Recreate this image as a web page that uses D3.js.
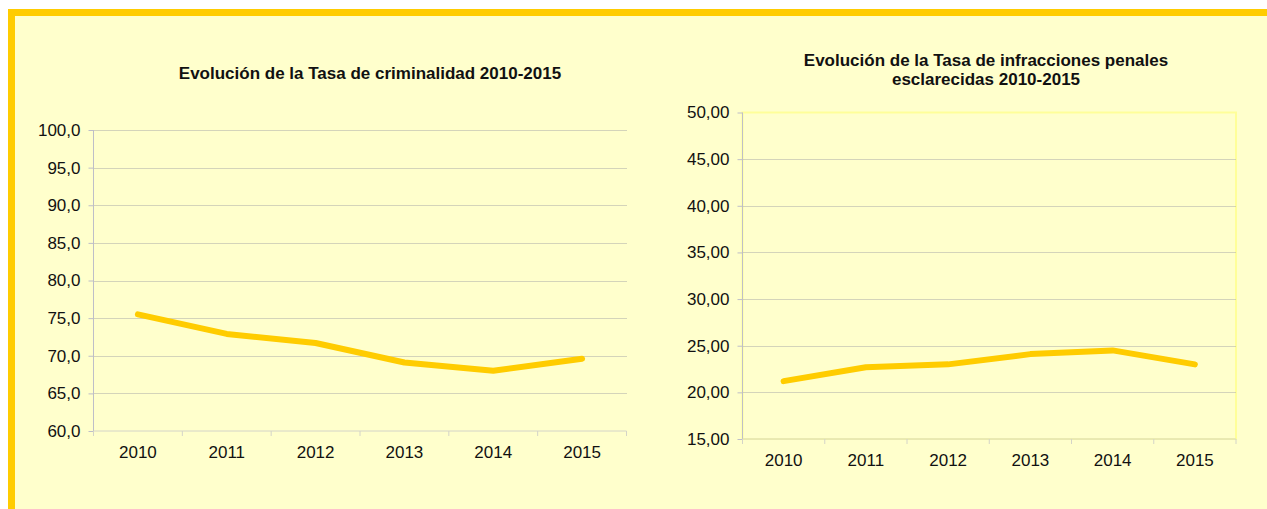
<!DOCTYPE html>
<html>
<head>
<meta charset="utf-8">
<script src="https://cdn.jsdelivr.net/npm/d3@7"></script>
<style>
  body { margin: 0; background: #ffffff; }
  svg text { font-family: Arial, "Liberation Sans", sans-serif; fill: #111; }
</style>
</head>
<body>
<svg id="chart" width="1267" height="509"></svg>
<script>
// data
var years = ["2010", "2011", "2012", "2013", "2014", "2015"];
var tasaCriminalidad = [75.5, 72.9, 71.7, 69.1, 68.0, 69.6];
var tasaEsclarecidas = [21.2, 22.7, 23.0, 24.1, 24.5, 23.0];
var ticksCriminalidad = [60, 65, 70, 75, 80, 85, 90, 95, 100];
var ticksEsclarecidas = [15, 20, 25, 30, 35, 40, 45, 50];
var tituloCriminalidad = ["Evolución de la Tasa de criminalidad 2010-2015"];
var tituloEsclarecidas = ["Evolución de la Tasa de infracciones penales", "esclarecidas 2010-2015"];

var es = d3.formatLocale({ decimal: ",", thousands: ".", grouping: [3], currency: ["", " €"] });

var svg = d3.select("#chart");

// panel background and yellow frame
svg.append("rect").attr("x", 15).attr("y", 16).attr("width", 1252).attr("height", 493).attr("fill", "#FFFFCC");
svg.append("rect").attr("x", 8).attr("y", 9).attr("width", 1259).attr("height", 7).attr("fill", "#FFCC00");
svg.append("rect").attr("x", 8).attr("y", 9).attr("width", 7).attr("height", 500).attr("fill", "#FFCC00");

function drawChart(opts) {
  var g = svg.append("g");
  var x = d3.scaleBand().domain(years).range([opts.left, opts.right]);
  var y = d3.scaleLinear().domain(opts.domain).range([opts.bottom, opts.top]);

  // plot area border (only the right chart has one)
  if (opts.border) {
    g.append("rect")
      .attr("x", opts.left).attr("y", opts.top)
      .attr("width", opts.right - opts.left).attr("height", opts.bottom - opts.top)
      .attr("fill", "none").attr("stroke", "#FFFF99").attr("stroke-width", 2);
  }

  // dotted gridlines, skip the bottom one and the top one when bordered
  var gridTicks = opts.ticks.slice(1).filter(function (d) {
    return !(opts.border && d === opts.domain[1]);
  });
  g.selectAll(".grid").data(gridTicks).enter().append("line")
    .attr("x1", opts.left).attr("x2", opts.right)
    .attr("y1", function (d) { return Math.round(y(d)) + 0.5; })
    .attr("y2", function (d) { return Math.round(y(d)) + 0.5; })
    .attr("stroke", "#A8A8A8")
    .attr("stroke-dasharray", "1,1");

  var yAxis = d3.axisLeft(y).tickValues(opts.ticks).tickSize(5).tickPadding(8)
    .tickFormat(es.format(opts.fmt));
  var ya = g.append("g").attr("transform", "translate(" + opts.left + ",0)").call(yAxis);
  ya.select(".domain").attr("stroke", "#BEBEC8").attr("d", "M0," + opts.top + "V" + opts.bottom);
  ya.selectAll(".tick line").attr("stroke", "#BEBEC8");
  ya.selectAll("text").style("font-size", "17px").attr("fill", "#111");

  var xAxis = d3.axisBottom(x).tickSize(0).tickPadding(0);
  var xa = g.append("g").attr("transform", "translate(0," + opts.bottom + ")").call(xAxis);
  xa.select(".domain").attr("stroke", "#D4D4C8").attr("d", "M" + opts.left + ",0H" + opts.right);
  xa.selectAll("text").style("font-size", "17px").attr("fill", "#111").attr("dy", "27px");
  // category boundary ticks
  var bounds = years.map(function (d) { return x(d); }).concat([opts.right]);
  xa.selectAll(".bound").data(bounds).enter().append("line")
    .attr("x1", function (d) { return d; }).attr("x2", function (d) { return d; })
    .attr("y1", 0).attr("y2", 5).attr("stroke", "#D4D4C8");

  var line = d3.line()
    .x(function (d, i) { return x(years[i]) + x.bandwidth() / 2; })
    .y(function (d) { return y(d); });
  g.append("path").datum(opts.values)
    .attr("d", line).attr("fill", "none")
    .attr("stroke", "#FFCC00").attr("stroke-width", 6)
    .attr("stroke-linejoin", "round").attr("stroke-linecap", "round");

  var t = g.append("text").attr("text-anchor", "middle")
    .style("font-size", "17px").style("font-weight", "bold");
  opts.title.forEach(function (s, i) {
    t.append("tspan").attr("x", opts.titleX).attr("y", opts.titleY + i * 19).text(s);
  });
}

drawChart({
  left: 93.5, right: 626.5, top: 130, bottom: 431,
  domain: [60, 100], ticks: ticksCriminalidad, values: tasaCriminalidad,
  fmt: ".1f", border: false, title: tituloCriminalidad, titleX: 370, titleY: 79
});

drawChart({
  left: 742.5, right: 1236, top: 112.5, bottom: 439,
  domain: [15, 50], ticks: ticksEsclarecidas, values: tasaEsclarecidas,
  fmt: ".2f", border: true, title: tituloEsclarecidas, titleX: 986, titleY: 66
});
</script>
</body>
</html>
